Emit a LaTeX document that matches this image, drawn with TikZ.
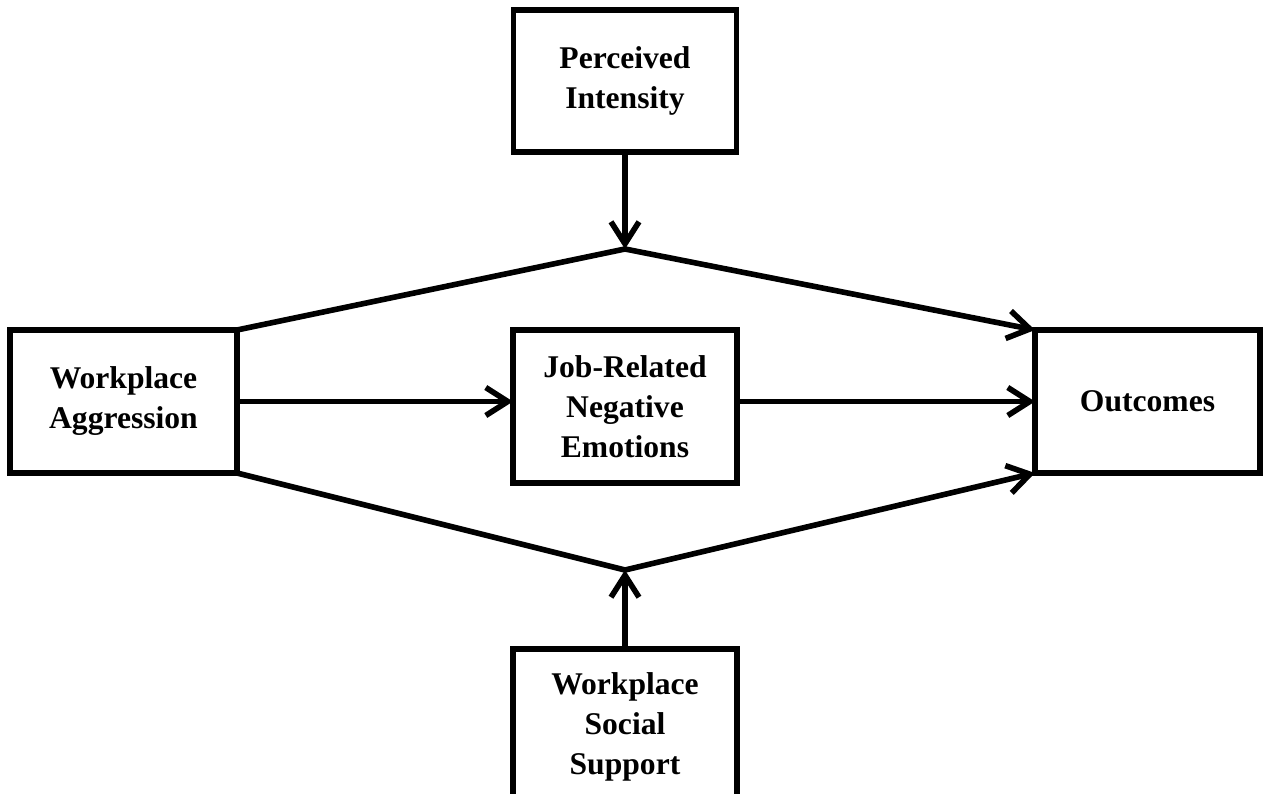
\documentclass[tikz,border=0pt]{standalone}
\usepackage{fontspec}
\setmainfont{Liberation Serif}
\usetikzlibrary{arrows.meta,positioning}

\begin{document}
\begin{tikzpicture}[
		line width=2.8pt,
		block/.style={draw, line width=2.8pt, outer sep=0pt, align=center, font=\bfseries\fontsize{15.8pt}{20pt}\selectfont, minimum width=113.5pt, minimum height=71.5pt},
		arr/.style={-{Straight Barb[length=11pt,width=14pt]}},
	]
		\useasboundingbox (-312.5pt,-193.25pt) rectangle (321.5pt,203.25pt);
		\node[block, minimum width=112pt, minimum height=76.5pt] (jre) {Job-Related\\Negative\\Emotions};
		\node[block, left=138pt of jre, yshift=2.5pt] (wa) {Workplace\\Aggression};
		\node[block, right=149pt of jre, yshift=2.5pt, minimum width=112.5pt] (out) {Outcomes};
		\node[block, above=89pt of jre, minimum width=111.5pt, minimum height=71pt] (pi) {Perceived\\Intensity};
		\node[block, below=83pt of jre, minimum width=112pt, minimum height=77.5pt] (wss) {Workplace\\Social\\Support};

		\coordinate[below=48.5pt of pi] (ptop);
		\coordinate[above=39.5pt of wss] (pbot);

		\draw[arr] (wa.east) -- (wa.east -| jre.west);
		\draw[arr] (jre.east |- out) -- (out.west);
		\draw[arr] (pi) -- (ptop);
		\draw[arr] (wss) -- (pbot);
		\draw[arr] (wa.north east) -- (ptop) -- (out.north west);
		\draw[arr] (wa.south east) -- (pbot) -- (out.south west);
	\end{tikzpicture}
\end{document}
